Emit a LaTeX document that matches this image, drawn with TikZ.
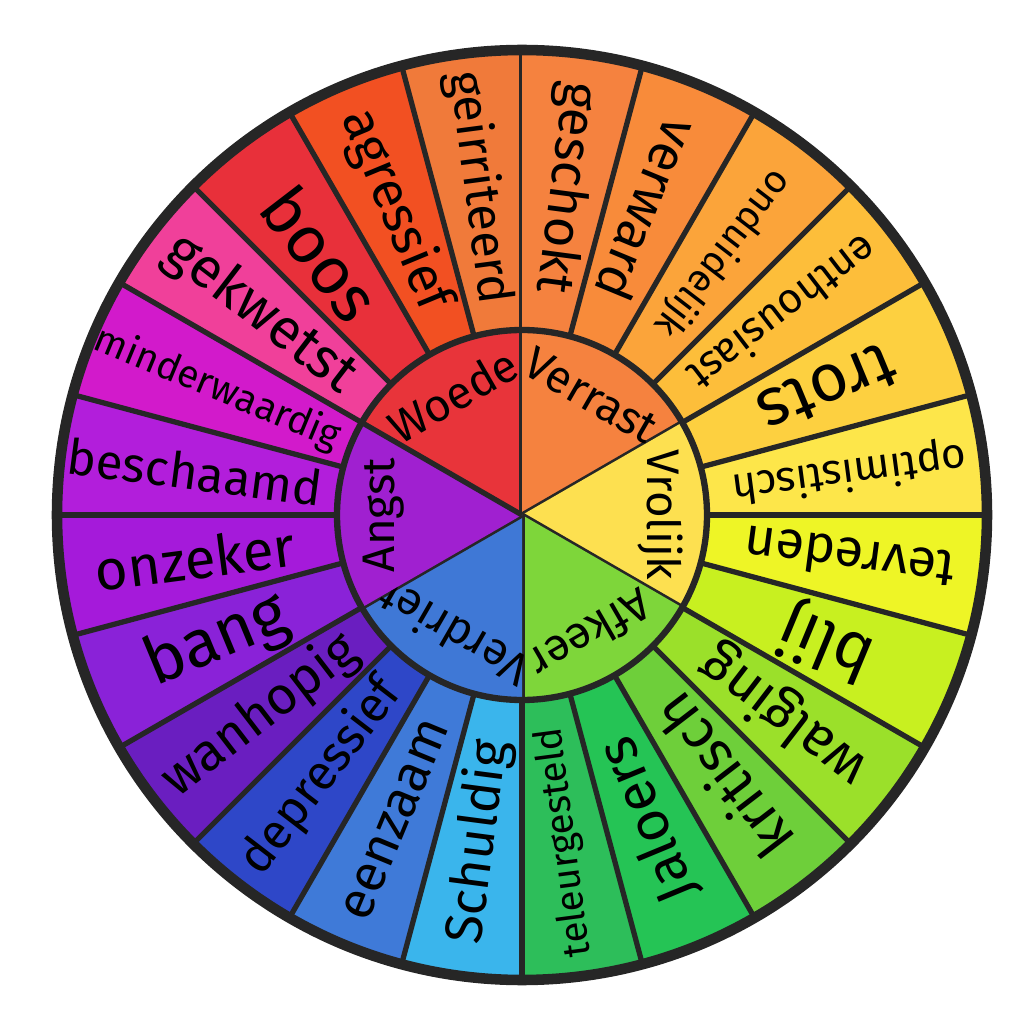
\documentclass[tikz,border=0pt]{standalone}
\usepackage{fontspec}
\setmainfont{Fira Sans}
\usetikzlibrary{calc}
% colours of the wheel
\definecolor{cWoede}{HTML}{E8343A}
\definecolor{cVerrast}{HTML}{F5823F}
\definecolor{cVrolijk}{HTML}{FDE050}
\definecolor{cAfkeer}{HTML}{7ED63A}
\definecolor{cVerdriet}{HTML}{3F78D6}
\definecolor{cAngst}{HTML}{A020D0}
\begin{document}
\begin{tikzpicture}[line join=round,
  inner word/.style={font=\fontsize{13}{13}\selectfont}]
\useasboundingbox (0,0) rectangle (10.24,10.24);
\coordinate (c) at (5.22,5.09);
\def\Rout{4.65}
\def\Rin{1.85}

% outer ring: start angle / colour / word / size
\foreach \a/\col/\w/\s in {
  90/F07A3A/geirriteerd/14, 105/F25022/agressief/15, 120/E8303A/boos/19, 135/F0409A/gekwetst/16,
  150/D21ACB/minderwaardig/11, 165/B21EDB/beschaamd/14, 180/A51ADA/onzeker/16, 195/8A22D8/bang/19,
  210/6A1EC0/wanhopig/15, 225/2E47C8/depressief/14, 240/3F7AD8/eenzaam/15, 255/3AB5EC/Schuldig/15,
  270/2DBE5A/teleurgesteld/11, 285/25C455/Jaloers/16, 300/6ECF3A/kritisch/16, 315/9BE02A/walging/16,
  330/C8F020/blij/19, 345/EEF526/tevreden/15, 0/FDE64A/optimistisch/12, 15/FDD040/trots/19,
  30/FDBE3A/enthousiast/12, 45/FBA43A/onduidelijk/11, 60/F88B3A/verward/15, 75/F5823F/geschokt/15}{
  \definecolor{tmp}{HTML}{\col}
  \fill[tmp] (c) -- ($(c)+(\a:\Rout)$) arc[start angle=\a, end angle=\a+15, radius=\Rout] -- cycle;
  \draw[line width=1.5pt, black!85] ($(c)+(\a:\Rin)$) -- ($(c)+(\a:\Rout)$);
  \node[rotate=\a+7.5+180, font=\fontsize{\s}{\s}\selectfont, inner sep=0pt]
    at ($(c)+(\a+7.5:3.3)$) {\w};
}

% inner circle
\foreach \a/\col/\w in {90/cWoede/Woede, 30/cVerrast/Verrast, -30/cVrolijk/Vrolijk,
  -90/cAfkeer/Afkeer, -150/cVerdriet/Verdriet, 150/cAngst/Angst}{
  \fill[\col] (c) -- ($(c)+(\a:\Rin)$) arc[start angle=\a, end angle=\a+60, radius=\Rin] -- cycle;
  \draw[line width=1.5pt, black!85] (c) -- ($(c)+(\a:\Rin)$);
  \node[inner word, rotate=\a+30-90, inner sep=0pt] at ($(c)+(\a+30:1.38)$) {\w};
}
\draw[line width=1.8pt, black!85] (c) circle[radius=\Rin];
\draw[line width=3pt, black!85] (c) circle[radius=\Rout];
\end{tikzpicture}
\end{document}
